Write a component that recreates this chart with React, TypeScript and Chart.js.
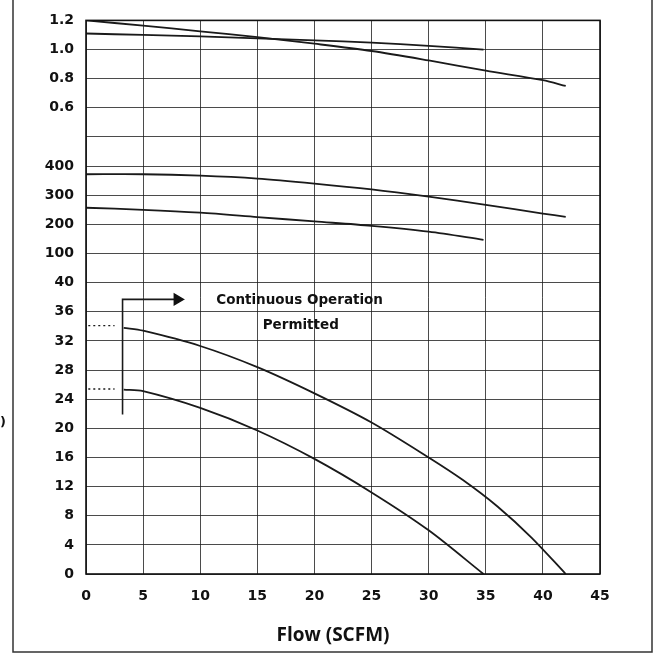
import React, { useEffect, useRef } from "react";
import { Chart, registerables } from "chart.js";
Chart.register(...registerables);

// ---- data ----
const xTicks = [0, 5, 10, 15, 20, 25, 30, 35, 40, 45];
const yTickLabels = ["0", "4", "8", "12", "16", "20", "24", "28", "32", "36", "40", "100", "200", "300", "400", "", "0.6", "0.8", "1.0", "1.2"];

// pressure curves (bottom section, 0-40)
const flowA = [3.3, 5, 10, 15, 20, 25, 30, 33, 36, 39, 42];
const pressA = [33.8, 33.4, 31.3, 28.4, 24.8, 20.8, 16, 12.9, 9.3, 5.0, 0];
const flowB = [3.3, 5, 10, 15, 20, 25, 30, 34.8];
const pressB = [25.3, 25.1, 22.8, 19.7, 15.8, 11.2, 6, 0];
const dotFlow = [0.2, 2.5];
const dotA = [34.1, 34.1];
const dotB = [25.4, 25.4];

// middle section (100-400)
const flowM1 = [0, 5, 10, 15, 20, 25, 30, 35, 40, 42];
const midM1 = [372, 372, 367, 357, 340, 320, 295, 267, 237, 226];
const flowM2 = [0, 5, 10, 15, 20, 25, 30, 34.8];
const midM2 = [257, 250, 240, 225, 210, 195, 175, 147];

// top section (0.6-1.2)
const flowT1 = [0, 5, 10, 15, 20, 25, 30, 35, 40, 42];
const topT1 = [1.2, 1.164, 1.125, 1.085, 1.04, 0.99, 0.925, 0.855, 0.79, 0.75];
const flowT2 = [0, 5, 10, 15, 20, 25, 30, 34.8];
const topT2 = [1.11, 1.1, 1.09, 1.077, 1.063, 1.048, 1.025, 1.0];

// bracket / annotation (bottom-section units)
const bracketFlow = [3.2, 3.2, 8.0];
const bracketPress = [21.9, 37.7, 37.7];
const noteLines = ["Continuous Operation", "Permitted"];
const notePos = [
  { x: 18.7, y: 37.5 },
  { x: 18.8, y: 34.1 },
];
const xTitle = "Flow (SCFM)";

// map section values onto the stacked grid index
const low = (v: number) => v / 4;
const mid = (v: number) => 10 + v / 100;
const top = (v: number) => 16 + (v - 0.6) / 0.2;

const pts = (xs: number[], ys: number[], f: (v: number) => number) =>
  xs.map((x, i) => ({ x, y: f(ys[i]) }));

const TICKFONT = "'DejaVu Sans', sans-serif";
const TITLEFONT = "'Open Sans', sans-serif";

export default function App() {
  const ref = useRef<HTMLCanvasElement>(null);
  useEffect(() => {
    if (!ref.current) return;
    const line = (data: any[], extra: any = {}) => ({
      data,
      showLine: true,
      borderColor: "#1a1a1a",
      borderWidth: 1.8,
      pointRadius: 0,
      tension: 0.3,
      ...extra,
    });
    const deco = {
      id: "deco",
      afterDraw(chart: any) {
        const { ctx, chartArea: a, scales } = chart;
        ctx.save();
        // plot border
        ctx.strokeStyle = "#111";
        ctx.lineWidth = 1.6;
        ctx.strokeRect(a.left, a.top, a.right - a.left, a.bottom - a.top);
        // outer frame
        ctx.strokeStyle = "#333";
        ctx.lineWidth = 1.5;
        ctx.beginPath();
        ctx.moveTo(13, 0);
        ctx.lineTo(13, 652);
        ctx.lineTo(652, 652);
        ctx.lineTo(652, 0);
        ctx.stroke();
        // annotation
        ctx.fillStyle = "#111";
        ctx.font = `bold 13.5px ${TICKFONT}`;
        ctx.textAlign = "center";
        ctx.textBaseline = "middle";
        noteLines.forEach((t, i) => {
          ctx.fillText(t, scales.x.getPixelForValue(notePos[i].x), scales.y.getPixelForValue(low(notePos[i].y)));
        });
        // x title
        ctx.font = `bold 19px ${TITLEFONT}`;
        ctx.fillText(xTitle, 333, 636);
        // clipped y title remnant
        ctx.font = `bold 13px ${TICKFONT}`;
        ctx.fillText(")", 3, 423);
        ctx.restore();
      },
    };
    const chart = new Chart(ref.current, {
      type: "scatter",
      data: {
        datasets: [
          line(pts(flowA, pressA, low)),
          line(pts(flowB, pressB, low)),
          line(pts(dotFlow, dotA, low), { borderDash: [2, 3], borderWidth: 1.4, tension: 0 }),
          line(pts(dotFlow, dotB, low), { borderDash: [2, 3], borderWidth: 1.4, tension: 0 }),
          line(pts(flowM1, midM1, mid)),
          line(pts(flowM2, midM2, mid)),
          line(pts(flowT1, topT1, top)),
          line(pts(flowT2, topT2, top)),
          line(pts(bracketFlow, bracketPress, low), {
            tension: 0,
            borderWidth: 1.6,
            pointRadius: [0, 0, 6],
            pointStyle: "triangle",
            rotation: 90,
            pointBackgroundColor: "#111",
            pointBorderColor: "#111",
          }),
        ] as any,
      },
      options: {
        animation: false,
        responsive: false,
        maintainAspectRatio: false,
        layout: { padding: { left: 0, right: 56, top: 12, bottom: 0 } },
        plugins: { legend: { display: false }, tooltip: { enabled: false } },
        scales: {
          x: {
            type: "linear",
            min: 0,
            max: 45,
            afterBuildTicks: (s: any) => {
              s.ticks = xTicks.map((v) => ({ value: v }));
            },
            afterFit: (s: any) => {
              s.height = 81;
            },
            ticks: {
              padding: 14,
              color: "#111",
              font: { family: TICKFONT, size: 14, weight: "bold" },
            },
            grid: { color: "rgba(30,30,30,0.8)", lineWidth: 1, drawTicks: false },
            border: { display: false },
          },
          y: {
            type: "linear",
            min: 0,
            max: 19,
            afterBuildTicks: (s: any) => {
              s.ticks = yTickLabels.map((_, i) => ({ value: i }));
            },
            afterFit: (s: any) => {
              s.width = 86;
            },
            ticks: {
              padding: 12,
              color: "#111",
              font: { family: TICKFONT, size: 14, weight: "bold" },
              callback: (v: any) => yTickLabels[Math.round(v)] ?? "",
            },
            grid: { color: "rgba(30,30,30,0.8)", lineWidth: 1, drawTicks: false },
            border: { display: false },
          },
        },
      } as any,
      plugins: [deco],
    });
    return () => chart.destroy();
  }, []);
  return (
    <div style={{ position: "fixed", left: 0, top: 0, width: 656, height: 655, background: "#fff" }}>
      <canvas ref={ref} width={656} height={655} />
    </div>
  );
}
